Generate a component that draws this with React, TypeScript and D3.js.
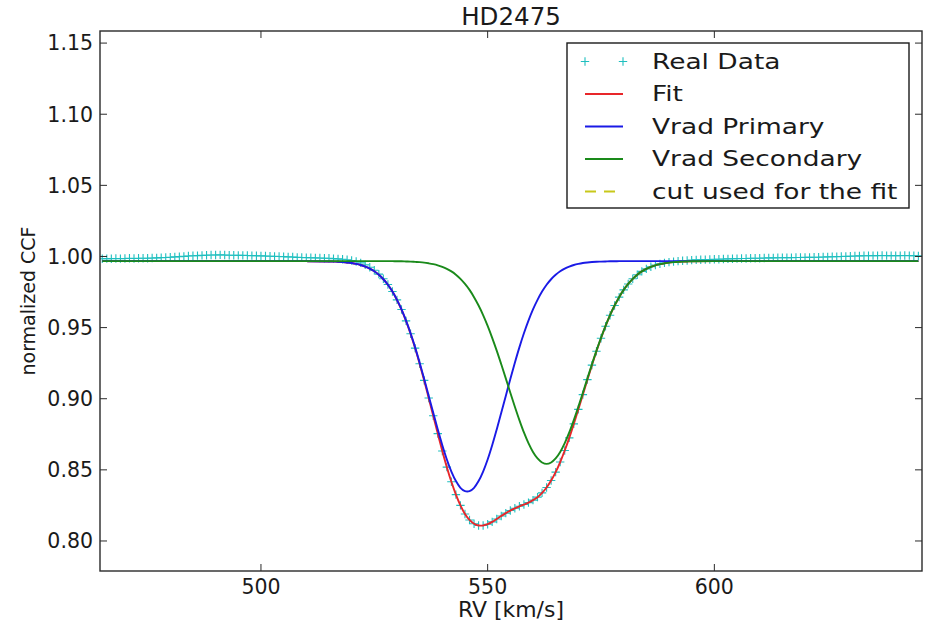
import React from 'react';
import * as d3 from 'd3';

const title = 'HD2475';
const xLabel = 'RV [km/s]';
const yLabel = 'normalized CCF';
const xTicks = [500, 550, 600];
const yTicks = [0.8, 0.85, 0.9, 0.95, 1.0, 1.05, 1.1, 1.15];
const xDomain = [464.5, 645.8];
const yDomain = [0.7789, 1.1585];

// Real data (CCF) sampled every 1 km/s starting at 465 km/s
const dataRvStart = 465;
const dataRvStep = 1;
const realData = [
  0.9984, 0.9985, 0.9984, 0.9986, 0.9985, 0.9986, 0.9987, 0.9986, 0.9987, 0.9988,
  0.9987, 0.9989, 0.9990, 0.9992, 0.9993, 0.9995, 0.9997, 0.9999, 1.0001, 1.0003,
  1.0005, 1.0006, 1.0008, 1.0009, 1.0010, 1.0010, 1.0011, 1.0010, 1.0009, 1.0009,
  1.0008, 1.0008, 1.0007, 1.0006, 1.0005, 1.0004, 1.0003, 1.0002, 1.0001, 1.0000,
  0.9999, 0.9997, 0.9996, 0.9994, 0.9993, 0.9992, 0.9991, 0.9990, 0.9989, 0.9988,
  0.9987, 0.9985, 0.9983, 0.9981, 0.9977, 0.9972, 0.9965, 0.9955, 0.9941, 0.9924,
  0.9903, 0.9876, 0.9843, 0.9803, 0.9754, 0.9695, 0.9627, 0.9547, 0.9457, 0.9356,
  0.9246, 0.9129, 0.9005, 0.8880, 0.8755, 0.8633, 0.8519, 0.8416, 0.8326, 0.8250,
  0.8190, 0.8148, 0.8121, 0.8109, 0.8109, 0.8118, 0.8134, 0.8155, 0.8176, 0.8196,
  0.8214, 0.8230, 0.8244, 0.8256, 0.8270, 0.8287, 0.8308, 0.8338, 0.8376, 0.8425,
  0.8484, 0.8555, 0.8636, 0.8725, 0.8823, 0.8925, 0.9029, 0.9134, 0.9236, 0.9334,
  0.9425, 0.9510, 0.9587, 0.9655, 0.9714, 0.9765, 0.9807, 0.9843, 0.9872, 0.9895,
  0.9913, 0.9928, 0.9939, 0.9948, 0.9955, 0.9960, 0.9964, 0.9967, 0.9970, 0.9972,
  0.9974, 0.9976, 0.9977, 0.9978, 0.9979, 0.9980, 0.9981, 0.9982, 0.9983, 0.9984,
  0.9985, 0.9986, 0.9986, 0.9987, 0.9988, 0.9988, 0.9989, 0.9990, 0.9990, 0.9991,
  0.9991, 0.9992, 0.9992, 0.9993, 0.9993, 0.9994, 0.9994, 0.9995, 0.9995, 0.9996,
  0.9997, 0.9998, 0.9999, 1.0000, 1.0001, 1.0002, 1.0003, 1.0004, 1.0005, 1.0005,
  1.0006, 1.0006, 1.0007, 1.0006, 1.0006, 1.0005, 1.0006, 1.0007, 1.0006, 1.0005,
  1.0004,
];

// RV grid of the model curves
const modelRv = [
  465, 480, 500, 510,
  515, 516, 517, 518, 519, 520, 521, 522, 523, 524, 525, 526, 527, 528, 529, 530,
  531, 532, 533, 534, 535, 536, 537, 538, 539, 540, 541, 542, 543, 544, 545, 546,
  547, 548, 549, 550, 551, 552, 553, 554, 555, 556, 557, 558, 559, 560, 561, 562,
  563, 564, 565, 566, 567, 568, 569, 570, 571, 572, 573, 574, 575, 576, 577, 578,
  579, 580, 581, 582, 583, 584, 585, 586, 587, 588, 589, 590, 591, 592, 593, 594, 595,
  600, 620, 645,
];

const fitValues = [
  0.9967, 0.9967, 0.9967, 0.9967,
  0.9965, 0.9964, 0.9963, 0.9961, 0.9958, 0.9954, 0.9948, 0.9940, 0.9929, 0.9915,
  0.9896, 0.9871, 0.9840, 0.9801, 0.9753, 0.9694, 0.9627, 0.9547, 0.9457, 0.9356,
  0.9246, 0.9129, 0.9005, 0.8880, 0.8755, 0.8633, 0.8519, 0.8416, 0.8326, 0.8250,
  0.8190, 0.8148, 0.8121, 0.8109, 0.8109, 0.8118, 0.8134, 0.8155, 0.8176, 0.8196,
  0.8214, 0.8230, 0.8244, 0.8256, 0.8270, 0.8287, 0.8308, 0.8338, 0.8376, 0.8425,
  0.8484, 0.8555, 0.8636, 0.8725, 0.8823, 0.8925, 0.9029, 0.9134, 0.9236, 0.9334,
  0.9425, 0.9510, 0.9587, 0.9655, 0.9714, 0.9765, 0.9807, 0.9843, 0.9872, 0.9895,
  0.9913, 0.9927, 0.9938, 0.9946, 0.9952, 0.9957, 0.9960, 0.9962, 0.9964, 0.9965,
  0.9966,
  0.9967, 0.9967, 0.9967,
];

const primaryValues = [
  0.9967, 0.9967, 0.9967, 0.9967,
  0.9965, 0.9964, 0.9963, 0.9961, 0.9958, 0.9954, 0.9948, 0.9940, 0.9929, 0.9915,
  0.9896, 0.9871, 0.9840, 0.9801, 0.9753, 0.9695, 0.9628, 0.9549, 0.9460, 0.9361,
  0.9253, 0.9139, 0.9020, 0.8901, 0.8784, 0.8673, 0.8573, 0.8488, 0.8421, 0.8374,
  0.8350, 0.8350, 0.8374, 0.8421, 0.8488, 0.8573, 0.8673, 0.8784, 0.8901, 0.9020,
  0.9139, 0.9253, 0.9361, 0.9460, 0.9549, 0.9628, 0.9695, 0.9753, 0.9801, 0.9840,
  0.9871, 0.9896, 0.9915, 0.9929, 0.9940, 0.9948, 0.9954, 0.9958, 0.9961, 0.9963,
  0.9964, 0.9965, 0.9966, 0.9966, 0.9967, 0.9967, 0.9967, 0.9967, 0.9967, 0.9967,
  0.9967, 0.9967, 0.9967, 0.9967, 0.9967, 0.9967, 0.9967, 0.9967, 0.9967, 0.9967,
  0.9967,
  0.9967, 0.9967, 0.9967,
];

const secondaryValues = [
  0.9967, 0.9967, 0.9967, 0.9967,
  0.9967, 0.9967, 0.9967, 0.9967, 0.9967, 0.9967, 0.9967, 0.9967, 0.9967, 0.9967,
  0.9967, 0.9967, 0.9967, 0.9967, 0.9967, 0.9966, 0.9966, 0.9965, 0.9964, 0.9962,
  0.9960, 0.9957, 0.9952, 0.9946, 0.9938, 0.9927, 0.9913, 0.9895, 0.9872, 0.9843,
  0.9807, 0.9765, 0.9714, 0.9655, 0.9588, 0.9512, 0.9428, 0.9338, 0.9242, 0.9143,
  0.9042, 0.8944, 0.8850, 0.8763, 0.8688, 0.8626, 0.8580, 0.8552, 0.8542, 0.8552,
  0.8580, 0.8626, 0.8688, 0.8763, 0.8850, 0.8944, 0.9042, 0.9143, 0.9242, 0.9338,
  0.9428, 0.9512, 0.9588, 0.9655, 0.9714, 0.9765, 0.9807, 0.9843, 0.9872, 0.9895,
  0.9913, 0.9927, 0.9938, 0.9946, 0.9952, 0.9957, 0.9960, 0.9962, 0.9964, 0.9965,
  0.9966,
  0.9967, 0.9967, 0.9967,
];

const legendLabels = ['Real Data', 'Fit', 'Vrad Primary', 'Vrad Secondary', 'cut used for the fit'];

const COLORS = {
  data: '#1fbfbf',
  fit: '#e8262a',
  primary: '#1a1ae6',
  secondary: '#1a8a1a',
  cut: '#c8c81a',
};

const W = 930;
const H = 623;
const PL = 100;
const PR = 922;
const PT = 31;
const PB = 571;
const FONT = 'DejaVu Sans, sans-serif';
const TXT = '#1a1a1a';

export default function App() {
  const x = d3.scaleLinear().domain(xDomain).range([PL, PR]);
  const y = d3.scaleLinear().domain(yDomain).range([PB, PT]);

  const dataPts = realData.map((v, i) => [dataRvStart + i * dataRvStep, v] as [number, number]);
  const mk = (vals: number[]) => modelRv.map((r, i) => [r, vals[i]] as [number, number]);

  const line = d3
    .line<[number, number]>()
    .x((d) => x(d[0]))
    .y((d) => y(d[1]))
    .curve(d3.curveCatmullRom);

  const tickLen = 7;
  const ms = 4.2;

  const legendX = 567;
  const legendY = 43;
  const legendW = 342;
  const legendH = 165;
  const rowY = (i: number) => 61.5 + i * 32.5;
  const sx1 = 585;
  const sx2 = 623;

  return (
    <svg
      width={W}
      height={H}
      style={{ position: 'absolute', left: 0, top: 0, background: '#fff' }}
      fontFamily={FONT}
    >
      <defs>
        <clipPath id="plotclip">
          <rect x={PL} y={PT} width={PR - PL} height={PB - PT} />
        </clipPath>
      </defs>
      <rect x={0} y={0} width={W} height={H} fill="#fff" />

      <g clipPath="url(#plotclip)">
        {/* Real data markers */}
        <g stroke={COLORS.data} strokeWidth={1.1} fill="none">
          {dataPts.map((d, i) => {
            const cx = x(d[0]);
            const cy = y(d[1]);
            return (
              <path
                key={i}
                d={`M${cx - ms},${cy}H${cx + ms}M${cx},${cy - ms}V${cy + ms}`}
              />
            );
          })}
        </g>
        <path d={line(mk(fitValues)) || ''} fill="none" stroke={COLORS.fit} strokeWidth={1.9} />
        <path d={line(mk(primaryValues)) || ''} fill="none" stroke={COLORS.primary} strokeWidth={1.9} />
        <path d={line(mk(secondaryValues)) || ''} fill="none" stroke={COLORS.secondary} strokeWidth={1.9} />
      </g>

      {/* Axes frame */}
      <rect x={PL} y={PT} width={PR - PL} height={PB - PT} fill="none" stroke="#2a2a2a" strokeWidth={1.4} />

      {/* X ticks */}
      {xTicks.map((t) => (
        <g key={`xt${t}`}>
          <line x1={x(t)} x2={x(t)} y1={PB} y2={PB - tickLen} stroke="#2a2a2a" strokeWidth={1} />
          <line x1={x(t)} x2={x(t)} y1={PT} y2={PT + tickLen} stroke="#2a2a2a" strokeWidth={1} />
          <text x={x(t)} y={594} textAnchor="middle" fontSize={20.5} fill={TXT}>
            {t}
          </text>
        </g>
      ))}

      {/* Y ticks */}
      {yTicks.map((t) => (
        <g key={`yt${t}`}>
          <line x1={PL} x2={PL + tickLen} y1={y(t)} y2={y(t)} stroke="#2a2a2a" strokeWidth={1} />
          <line x1={PR} x2={PR - tickLen} y1={y(t)} y2={y(t)} stroke="#2a2a2a" strokeWidth={1} />
          <text x={93} y={y(t)} dy="0.36em" textAnchor="end" fontSize={20.5} fill={TXT}>
            {d3.format('.2f')(t)}
          </text>
        </g>
      ))}

      {/* Labels */}
      <text x={(PL + PR) / 2} y={25} textAnchor="middle" fontSize={24.5} fill={TXT}>
        {title}
      </text>
      <text
        transform={`translate(${(PL + PR) / 2},617) scale(1.07,1)`}
        textAnchor="middle"
        fontSize={20.5}
        fill={TXT}
      >
        {xLabel}
      </text>
      <text
        transform={`translate(35,${(PT + PB) / 2}) rotate(-90)`}
        textAnchor="middle"
        fontSize={19}
        fill={TXT}
      >
        {yLabel}
      </text>

      {/* Legend */}
      <rect x={legendX} y={legendY} width={legendW} height={legendH} fill="#fff" stroke="#1a1a1a" strokeWidth={1.4} />
      {legendLabels.map((lab, i) => {
        const ry = rowY(i);
        let sample: React.ReactNode = null;
        if (i === 0) {
          sample = (
            <g stroke={COLORS.data} strokeWidth={1.1}>
              {[sx1, sx2].map((cx) => (
                <path key={cx} d={`M${cx - ms},${ry}H${cx + ms}M${cx},${ry - ms}V${ry + ms}`} />
              ))}
            </g>
          );
        } else if (i === 4) {
          sample = (
            <line x1={sx1} x2={sx2} y1={ry} y2={ry} stroke={COLORS.cut} strokeWidth={1.9} strokeDasharray="11,8" />
          );
        } else {
          const c = i === 1 ? COLORS.fit : i === 2 ? COLORS.primary : COLORS.secondary;
          sample = <line x1={sx1} x2={sx2} y1={ry} y2={ry} stroke={c} strokeWidth={1.9} />;
        }
        return (
          <g key={lab}>
            {sample}
            <text
              transform={`translate(652,${ry}) scale(1.29,1)`}
              dy="0.36em"
              fontSize={20.5}
              fill={TXT}
            >
              {lab}
            </text>
          </g>
        );
      })}
    </svg>
  );
}
